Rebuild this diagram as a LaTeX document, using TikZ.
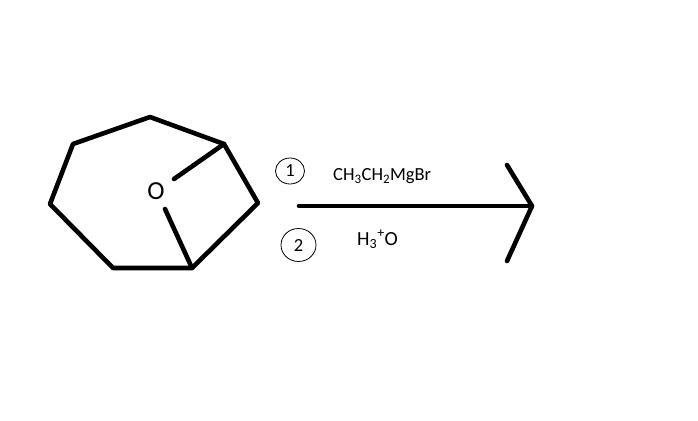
\documentclass[tikz,border=0pt]{standalone}
\usepackage{fontspec}
\setmainfont{Carlito}
\usetikzlibrary{calc,positioning,shapes.geometric}
\tikzset{
  bond/.style={line width=4.6pt,line cap=round,line join=round},
  thinring/.style={draw,ellipse,line width=0.8pt,inner sep=0pt},
  lbl/.style={inner sep=0pt,font=\fontsize{18.5}{22}\selectfont}
}
\begin{document}
\begin{tikzpicture}[x=1pt,y=-1pt]
          \useasboundingbox (0,0) rectangle (698,420);
          % ring
          \coordinate (C1) at (224,144);
          \coordinate (C2) at (150,117);
          \coordinate (C3) at (73,144);
          \coordinate (C4) at (50,204);
          \coordinate (C5) at (113,268);
          \coordinate (C6) at (192,268);
          \coordinate (C7) at (258,203);
          \draw[bond] (C1) -- (C2) -- (C3) -- (C4) -- (C5) -- (C6) -- (C7) -- cycle;
          % bridge
          \node[lbl,font=\fontsize{26}{30}\selectfont] (O) at (156,191) {O};
          \coordinate (O1) at (174,179);
          \coordinate (O2) at (165,209);
          \draw[bond] (C1) -- (O1);
          \draw[bond] (C6) -- (O2);
          % arrow
          \coordinate (start) at (299,206);
          \coordinate (tip) at (532,206);
          \coordinate (upper) at (507,165);
          \coordinate (lower) at (507,261);
          \draw[bond] (start) -- (tip);
          \draw[bond] (upper) -- (tip) -- (lower);
          % steps
          \node[thinring,minimum width=29pt,minimum height=26pt,lbl] (one) at (290,171) {1};
          \node[thinring,minimum width=35pt,minimum height=33pt,lbl] (two) at (298.5,245) {2};
          \node[lbl,right] (grignard) at (333,176) {CH\textsubscript{3}CH\textsubscript{2}MgBr};
          \node[lbl,right,font=\fontsize{20}{24}\selectfont] (acid) at (357,239) {H\textsubscript{3}\textsuperscript{+}O};
      \end{tikzpicture}
\end{document}
